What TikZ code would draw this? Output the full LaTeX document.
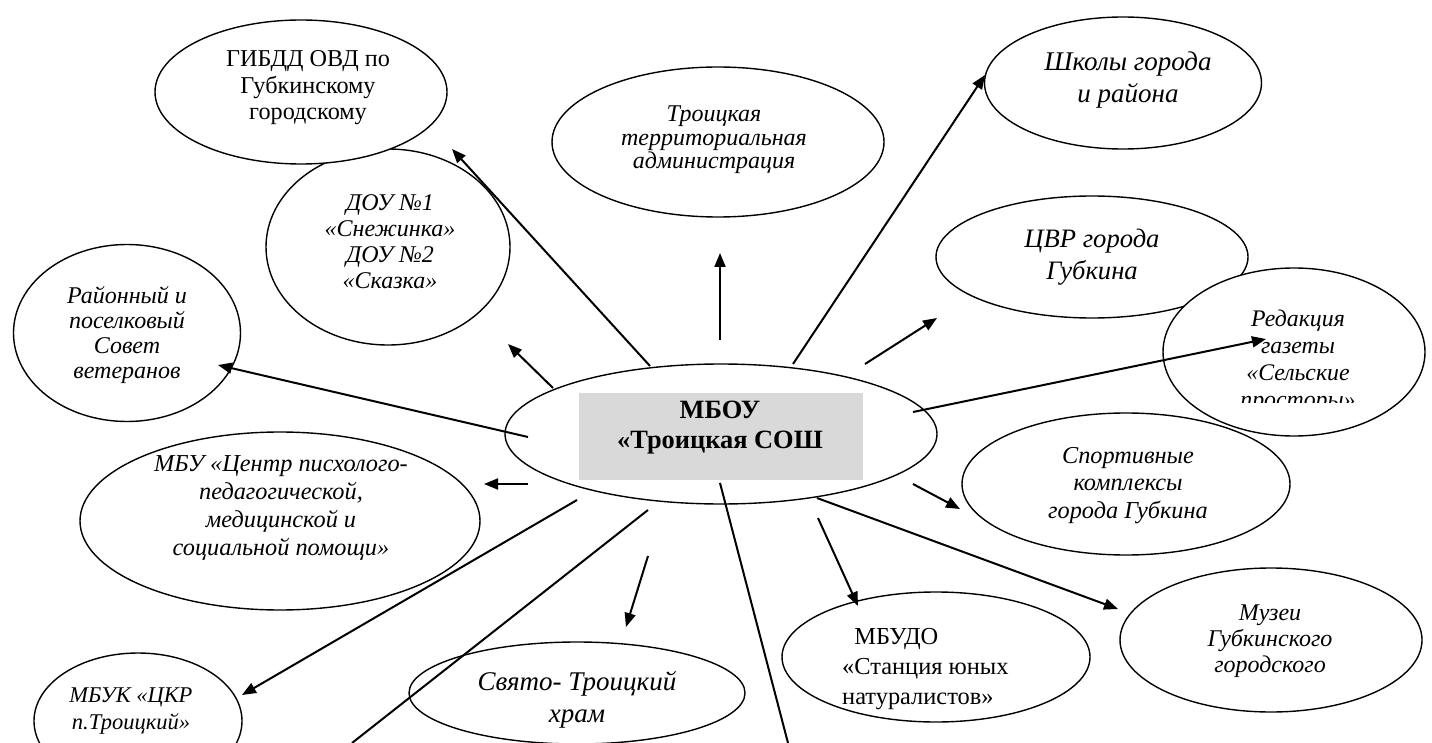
\documentclass[tikz,border=0pt]{standalone}
\usepackage{fontspec}
\setmainfont{Liberation Serif}
\usetikzlibrary{shapes.geometric,arrows.meta}
\newcommand\myfs[2]{\fontsize{#1}{#2}\selectfont}
\begin{document}
\begin{tikzpicture}[x=1pt,y=-1pt,
  ell/.style={draw, ellipse, line width=1.4pt, fill=white, inner sep=0pt},
  lbl/.style={inner sep=0pt, align=center},
  conn/.style={line width=2pt, -{Triangle[length=14pt,width=11pt]}},
  plainline/.style={line width=2pt}]
\useasboundingbox (0,0) rectangle (1432,743);
\fill[white] (0,0) rectangle (1432,743);

% ellipses
\node[ell, minimum width=244pt, minimum height=196pt] (dou) at (388,247) {};
\node[ell, minimum width=292pt, minimum height=144pt] (gibdd) at (301,92) {};
\node[ell, minimum width=332pt, minimum height=150pt] (terr) at (718,142) {};
\node[ell, minimum width=277pt, minimum height=132pt] (shk) at (1123,83) {};
\node[ell, minimum width=312pt, minimum height=122pt] (cvr) at (1092,257) {};
\node[ell, minimum width=328pt, minimum height=142pt] (sport) at (1126,484) {};
\node[ell, minimum width=262pt, minimum height=168pt] (red) at (1294,352) {};
\node[ell, minimum width=227pt, minimum height=177pt] (vet) at (127,333) {};
\node[ell, minimum width=432pt, minimum height=140pt] (mbou) at (721,434) {};
\node[ell, minimum width=400pt, minimum height=178pt] (psy) at (280,521) {};
\node[ell, minimum width=208pt, minimum height=136pt] (ckr) at (138,721) {};
\node[ell, minimum width=336pt, minimum height=102pt] (hram) at (577,693) {};
\node[ell, minimum width=308pt, minimum height=130pt] (sun) at (936,657) {};
\node[ell, minimum width=302pt, minimum height=144pt] (muz) at (1271,640) {};

% grey box in the centre
\fill[fill={rgb,255:red,217;green,217;blue,217}] (579,393) rectangle (863,480);

% labels
\node[lbl, font=\myfs{24.2}{26.5}] (tgibdd) at (308,88) {ГИБДД ОВД по\\Губкинскому\\городскому};
\node[lbl, font=\myfs{24}{26}\itshape] (tdou) at (390,242) {ДОУ №1\\«Снежинка»\\ДОУ №2\\«Сказка»};
\node[lbl, font=\myfs{24}{23.5}\itshape] (tterr) at (714,140) {Троицкая\\территориальная\\администрация};
\node[lbl, font=\myfs{27}{32}\itshape] (tshk) at (1128,80) {Школы города\\и района};
\node[lbl, font=\myfs{26.6}{32}\itshape] (tcvr) at (1092,257.5) {ЦВР города\\Губкина};
\begin{scope}
\clip (1150,250) rectangle (1432,402);
\node[lbl, font=\myfs{23.8}{27}\itshape] (tred) at (1298,361) {Редакция\\газеты\\«Сельские\\просторы»};
\end{scope}
\node[lbl, font=\myfs{24}{25}\itshape] (tvet) at (127,335.5) {Районный и\\поселковый\\Совет\\ветеранов};
\node[lbl, font=\myfs{26.4}{30}\bfseries] (tmbou) at (720,427.5) {МБОУ\\«Троицкая СОШ};
\node[lbl, font=\myfs{24.3}{27.7}\itshape] (tpsy) at (281,508) {МБУ «Центр писхолого-\\педагогической,\\медицинской и\\социальной помощи»};
\node[lbl, font=\myfs{22.5}{27}\itshape] (tckr) at (131,711) {МБУК «ЦКР\\п.Троицкий»};
\node[lbl, font=\myfs{27}{32}\itshape] (thram) at (577,700) {Свято- Троицкий\\храм};
\node[inner sep=0pt, align=left, anchor=west, font=\myfs{24.4}{30}] (tsun) at (842,669) {\ \ МБУДО\\«Станция юных\\натуралистов»};
\node[lbl, font=\myfs{24}{26}\itshape] (tmuz) at (1270,641) {Музеи\\Губкинского\\городского};
\node[lbl, font=\myfs{24.3}{27.5}\itshape] (tsport) at (1128,485.5) {Спортивные\\комплексы\\города Губкина};

% connector end points
\coordinate (s1) at (650,366);  \coordinate (e1) at (452,149);
\coordinate (s2) at (553,388);  \coordinate (e2) at (508,344);
\coordinate (s3) at (720,340);  \coordinate (e3) at (720,253);
\coordinate (s4) at (793,364);  \coordinate (e4) at (985,75);
\coordinate (s5) at (865,364);  \coordinate (e5) at (937,318);
\coordinate (s6) at (913,412);  \coordinate (e6) at (1266,339);
\coordinate (s7) at (528,437);  \coordinate (e7) at (218,365);
\coordinate (s8) at (528,484);  \coordinate (e8) at (484,484);
\coordinate (s9) at (577,500);  \coordinate (e9) at (242,695);
\coordinate (s10) at (648,510); \coordinate (e10) at (352,743);
\coordinate (s11) at (648,556); \coordinate (e11) at (626,627);
\coordinate (s12) at (720,483); \coordinate (e12) at (788,743);
\coordinate (s13) at (818,518); \coordinate (e13) at (858,606);
\coordinate (s14) at (817,498); \coordinate (e14) at (1118,609);
\coordinate (s15) at (913,484); \coordinate (e15) at (960,509);

% connectors
\draw[conn] (s1) -- (e1);
\draw[conn] (s2) -- (e2);
\draw[conn] (s3) -- (e3);
\draw[conn] (s4) -- (e4);
\draw[conn] (s5) -- (e5);
\draw[conn] (s6) -- (e6);
\draw[conn] (s7) -- (e7);
\draw[conn] (s8) -- (e8);
\draw[conn] (s9) -- (e9);
\draw[plainline] (s10) -- (e10);
\draw[conn] (s11) -- (e11);
\draw[plainline] (s12) -- (e12);
\draw[conn] (s13) -- (e13);
\draw[conn] (s14) -- (e14);
\draw[conn] (s15) -- (e15);
\end{tikzpicture}
\end{document}
